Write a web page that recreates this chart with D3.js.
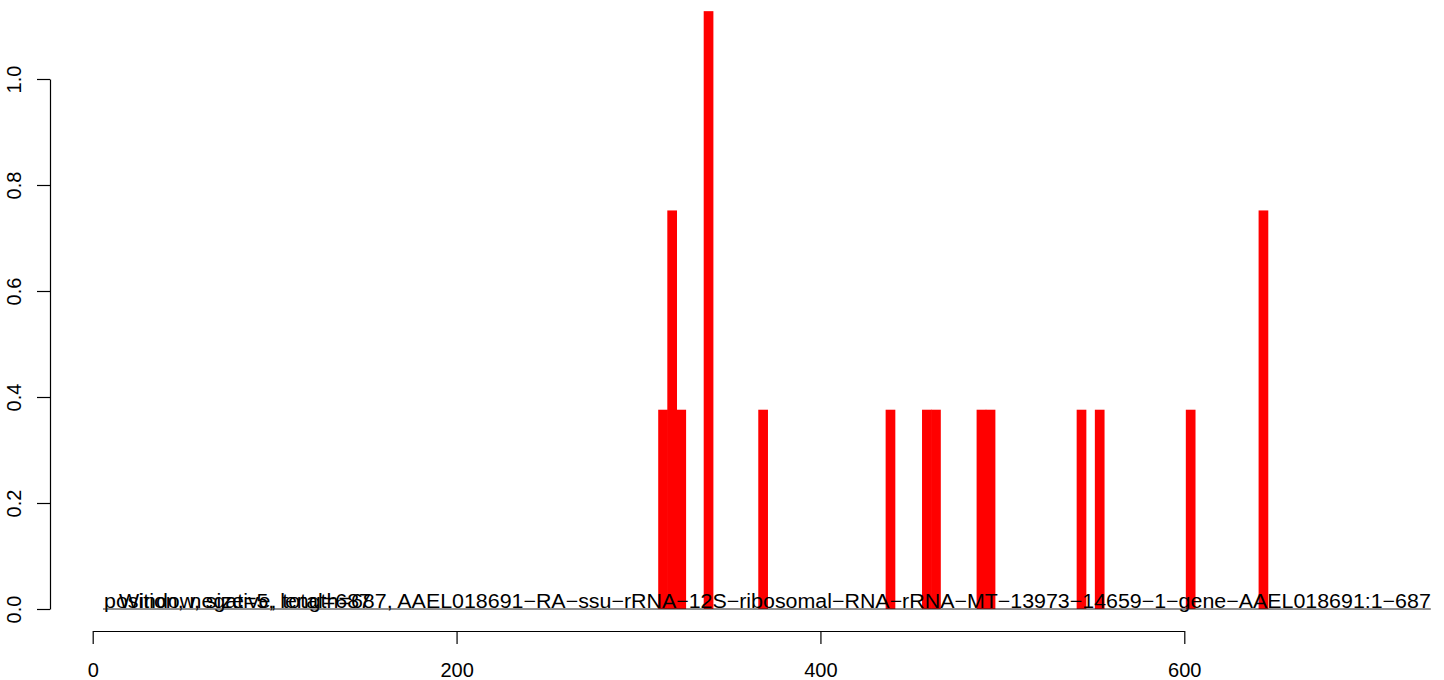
<!DOCTYPE html>
<html><head><meta charset="utf-8">
<script src="https://cdn.jsdelivr.net/npm/d3@7"></script>
<style>
body{margin:0;background:#fff}
svg{display:block}
text{font-family:"Liberation Sans",Arial,Helvetica,sans-serif}
</style>
</head><body>
<svg id="chart" width="1444" height="680"></svg>
<script>
// ---- data ----
const windowCenters = [313.5, 318.5, 323.5, 338.5, 368.5, 438.5, 458.5, 463.5, 488.5, 493.5, 543.5, 553.5, 603.5, 643.5];
const coverage      = [0.376, 0.752, 0.376, 1.128, 0.376, 0.376, 0.376, 0.376, 0.376, 0.376, 0.376, 0.376, 0.376, 0.752];
const xTicks = [0, 200, 400, 600];
const yTicks = [0, 0.2, 0.4, 0.6, 0.8, 1.0];
const labelA = "position, negative, total=687";
const labelB = "Window, size=5, length=687, AAEL018691\u2212RA\u2212ssu\u2212rRNA\u221212S\u2212ribosomal\u2212RNA\u2212rRNA\u2212MT\u221213973\u221214659\u22121\u2212gene\u2212AAEL018691:1\u2212687";

// ---- layout ----
const barWidth = 5.33;       // in position units
const labelAPos = 6.2, labelBPos = 14.5;
const fontSize = 20;
const textStretch = 1.07;

const svg = d3.select("#chart");
const x = d3.scaleLinear().domain([0, 600]).range([92.7, 1184.3]);
const y = d3.scaleLinear().domain([0, 1]).range([609, 79]);

// bars
svg.append("g").selectAll("rect")
  .data(windowCenters.map((c, i) => ({c, v: coverage[i]})))
  .join("rect")
  .attr("x", d => x(d.c - barWidth / 2))
  .attr("width", d => x(d.c + barWidth / 2) - x(d.c - barWidth / 2))
  .attr("y", d => y(d.v))
  .attr("height", d => y(0) - y(d.v))
  .attr("fill", "#FF0000");

// labels at zero line
const tg = svg.append("g").attr("font-size", fontSize).attr("fill", "#000");
function addLabel(str, pos) {
  return tg.append("text")
    .attr("transform", `translate(${x(pos)},${y(0) - 1.5}) scale(${textStretch},1)`)
    .text(str);
}
const tA = addLabel(labelA, labelAPos);
const tB = addLabel(labelB, labelBPos);
const x0 = Math.min(x(labelAPos), x(labelBPos)) - 1;
const x1 = Math.max(x(labelAPos) + textStretch * tA.node().getComputedTextLength(),
                    x(labelBPos) + textStretch * tB.node().getComputedTextLength());
svg.append("line").attr("x1", x0).attr("x2", x1).attr("y1", y(0)).attr("y2", y(0))
  .attr("stroke", "#222").attr("stroke-width", 1);

// x axis
const gx = svg.append("g").attr("transform", "translate(0,631)")
  .call(d3.axisBottom(x).tickValues(xTicks).tickSize(13).tickSizeOuter(0).tickFormat(d3.format("d")));
gx.selectAll("text").attr("y", 46).attr("dy", 0).attr("font-size", fontSize).attr("fill", "#000")
  .attr("font-family", '"Liberation Sans",Arial,sans-serif');

// y axis
const gy = svg.append("g").attr("transform", "translate(50,0)")
  .call(d3.axisLeft(y).tickValues(yTicks).tickSize(13).tickSizeOuter(0).tickFormat(d3.format(".1f")));
gy.selectAll("text").attr("transform", "rotate(-90)").attr("x", 0).attr("y", -29).attr("dy", 0)
  .attr("text-anchor", "middle").attr("font-size", fontSize).attr("fill", "#000")
  .attr("font-family", '"Liberation Sans",Arial,sans-serif');

svg.selectAll(".domain, .tick line").attr("stroke", "#000").attr("stroke-width", 1.2);
</script>
</body></html>
